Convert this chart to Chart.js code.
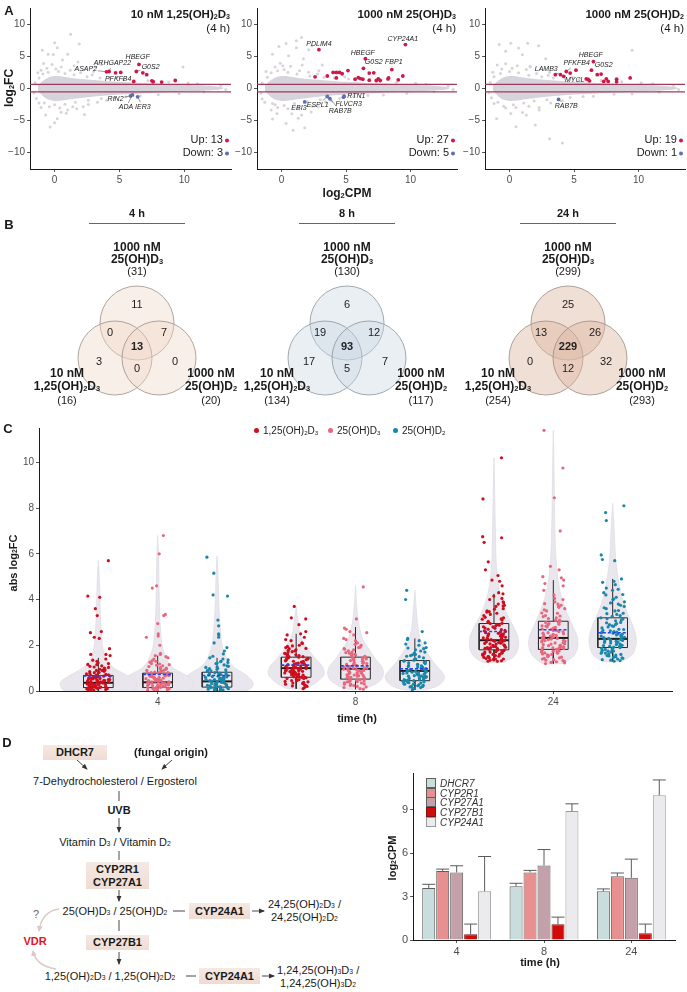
<!DOCTYPE html>
<html>
<head>
<meta charset="utf-8">
<script src="https://cdn.jsdelivr.net/npm/chart.js@4.4.0/dist/chart.umd.min.js"></script>
<style>
  body { margin: 0; width: 687px; height: 992px; position: relative; background: #fff; overflow: hidden;
         font-family: 'Liberation Sans', Arial, sans-serif; color: #1a1a1a; }
  canvas { position: absolute; }
  .t { position: absolute; white-space: nowrap; font-size: 11px; line-height: 1; }
  sub { font-size: 0.62em; vertical-align: -0.12em; line-height: 0; }
  .box { position: absolute; background: linear-gradient(#f5e9e3, #efdcd3); font-weight: bold; font-size: 11px;
         display: flex; flex-direction: column; align-items: center; justify-content: center; line-height: 13px; }
  .leg { position: absolute; font-size: 10px; font-style: italic; color: #333; white-space: nowrap; }
  .sq { display: inline-block; width: 8px; height: 8px; border: 1px solid #666; vertical-align: -1px; margin-right: 4px; }
</style>
</head>
<body>
<svg width="687" height="992" style="position:absolute;left:0;top:0">
  <defs>
    <marker id="ah" markerWidth="6" markerHeight="6" refX="5" refY="3" orient="auto" markerUnits="userSpaceOnUse">
      <path d="M0,0.6 L6,3 L0,5.4 z" fill="#333"/>
    </marker>
    <marker id="ahp" markerWidth="7" markerHeight="7" refX="5" refY="3.5" orient="auto" markerUnits="userSpaceOnUse">
      <path d="M0,0.5 L6,3.5 L0,6.5 z" fill="#dcc9c9"/>
    </marker>
  </defs>
  <g stroke="#333" stroke-width="0.9" fill="none">
    <line x1="77" y1="760" x2="87" y2="769" marker-end="url(#ah)"/>
    <line x1="172" y1="760" x2="162" y2="769" marker-end="url(#ah)"/>
    <line x1="119" y1="791" x2="119" y2="801"/>
    <line x1="119" y1="818" x2="119" y2="832" marker-end="url(#ah)"/>
    <line x1="119" y1="851" x2="119" y2="860"/>
    <line x1="119" y1="890" x2="119" y2="901" marker-end="url(#ah)"/>
    <line x1="173" y1="911" x2="185" y2="911"/>
    <line x1="252" y1="911" x2="264" y2="911" marker-end="url(#ah)"/>
    <line x1="119" y1="920" x2="119" y2="931"/>
    <line x1="119" y1="952" x2="119" y2="964" marker-end="url(#ah)"/>
    <line x1="186" y1="976" x2="196" y2="976"/>
    <line x1="262" y1="976" x2="274" y2="976" marker-end="url(#ah)"/>
  </g>
  <g stroke="#dcc9c9" stroke-width="1.4" fill="none">
    <path d="M59 909 Q 42 911 39 931" marker-end="url(#ahp)"/>
    <path d="M56 969 Q 36 966 33 951" marker-end="url(#ahp)"/>
  </g>
</svg>
<script>
// ---------- data: panel A (MA plots, log2CPM vs log2FC) ----------
const maTicksX = [0, 5, 10];
const maTicksY = [-10, -5, 0, 5, 10];
const fcCut = 0.58;
// envelope of the dense grey gene cloud
const cloudX  = [-1.3, -0.8, -0.3, 0.2, 0.7, 1.5, 2.5, 3.5, 4.5, 5.5, 6.5, 7.5, 8.5, 9.5, 10.5, 11.5, 12.3, 13.0];
const cloudUp = [0.4, 1.3, 1.8, 1.9, 1.8, 1.55, 1.35, 1.2, 1.05, 0.95, 0.85, 0.75, 0.65, 0.55, 0.48, 0.4, 0.3, 0.12];
const cloudLo = [-0.4, -1.4, -1.9, -2.0, -1.9, -1.65, -1.4, -1.2, -1.05, -0.95, -0.85, -0.75, -0.65, -0.55, -0.48, -0.4, -0.3, -0.12];

const gray1 = [[1.23,8.4],[0.0,7.1],[-0.95,5.9],[-0.5,5.3],[0.2,6.3],[1.8,4.1],[3.1,3.3],[3.6,3.7],[-0.85,3.85],[0.6,4.4],[9.9,3.3],[1.9,6.9],[-0.1,5.25],[1.0,5.3],[-1.05,2.8],[-0.35,-6.05],[0.0,-5.4],[0.5,-3.75],[1.0,-3.4],[1.7,-3.2],[-1.05,-3.0],[2.6,-2.55],[-0.7,-4.2],[2.3,-4.1],[0.2,-4.75],[-1.5,0.9],[-1.6,-0.7],[-1.2,1.6],[-0.9,2.2],[-0.5,2.5],[0.3,2.6],[0.8,2.3],[1.5,2.1],[2.5,1.8],[3.5,1.6],[-0.8,-2.3],[0.0,-2.6],[0.8,-2.5],[1.6,-2.2],[2.6,-1.9],[3.6,-1.6],[12.8,0.4],[13.2,-0.2],[11,0.7],[11.5,-0.6],
  [-1.3,2.4],[-0.6,3.1],[0.1,3.0],[0.5,3.3],[1.2,2.8],[1.4,-2.9],[0.4,-3.1],[-0.4,-2.9],[-1.2,-2.3],[2.0,2.4],[2.9,2.1],[3.3,-2.2],[4.2,1.5],[4.6,-1.5],[5.3,1.4],[5.5,-1.35],[6.6,-1.2],[7.2,1.15],[8.0,-1.0],[8.8,0.95],[9.6,-0.85],[10.3,0.8],[4.0,-1.9],[2.2,-2.9],[-0.2,3.7],[0.9,-3.9],[1.5,3.5],[-1.4,-1.6],[3.0,2.6],[4.8,1.7]];
const gray2 = [[1.15,7.4],[1.55,7.9],[0.35,6.95],[-0.2,6.5],[1.15,6.3],[2.35,6.6],[2.1,6.0],[-0.7,5.3],[0.55,5.05],[1.7,4.6],[3.15,3.6],[0.1,3.5],[-0.8,-3.4],[-0.7,-4.8],[-0.35,-3.95],[0.35,-5.5],[0.9,-6.55],[1.3,-4.7],[1.55,-4.2],[2.3,-3.7],[2.85,-2.9],[-0.3,-3.0],[1.8,-6.15],[-1.5,0.8],[-1.6,-0.8],[-1.1,1.7],[-0.8,2.4],[-0.3,2.7],[0.5,2.5],[1.2,2.2],[2.2,1.9],[3.3,1.7],[-0.7,-2.4],[0.2,-2.7],[1.0,-2.4],[2.0,-2.1],[3.0,-1.8],[12.9,0.3],[13.3,-0.2],[11.2,0.6],[11.8,-0.5],
  [-1.2,2.6],[-0.5,3.3],[0.2,2.9],[0.7,3.4],[1.4,2.7],[1.3,-3.0],[0.5,-3.2],[-0.5,-2.6],[-1.3,-2.2],[2.1,2.5],[2.8,2.2],[3.4,-2.1],[4.1,1.6],[4.5,-1.6],[5.2,1.45],[5.6,-1.3],[6.7,-1.15],[7.3,1.1],[7.9,-1.05],[8.9,0.9],[9.7,-0.8],[10.4,0.75],[3.9,-2.0],[2.4,-2.8],[-0.1,3.9],[0.8,-4.0],[1.6,3.6],[-1.5,-1.7],[2.9,2.7],[4.9,1.75]];
const gray3 = [[-0.8,6.8],[0.1,7.0],[1.4,7.0],[2.25,6.6],[0.7,6.25],[-0.3,5.75],[1.0,5.2],[2.8,4.6],[9.5,5.9],[-0.95,3.6],[1.6,3.3],[-1.0,-4.75],[0.1,-3.95],[0.5,-6.0],[1.3,-4.2],[2.3,-3.4],[3.1,-7.9],[4.1,-8.55],[-0.45,-2.8],[2.0,-5.75],[-1.5,0.9],[-1.6,-0.7],[-1.2,1.8],[-0.7,2.3],[0.0,2.6],[0.7,2.4],[1.5,2.0],[2.5,1.8],[3.4,1.6],[-0.9,-2.2],[0.3,-2.6],[1.1,-2.3],[1.9,-2.0],[2.9,-1.8],[12.7,0.4],[13.1,-0.2],[11.1,0.7],[11.6,-0.6],
  [-1.3,2.5],[-0.6,3.0],[0.2,3.1],[0.6,3.5],[1.3,2.9],[1.5,-2.8],[0.5,-3.0],[-0.3,-3.1],[-1.2,-2.4],[2.1,2.3],[3.0,2.0],[3.2,-2.3],[4.3,1.45],[4.7,-1.45],[5.4,1.35],[5.7,-1.3],[6.5,-1.25],[7.1,1.2],[8.1,-0.95],[8.7,1.0],[9.5,-0.9],[10.2,0.85],[4.1,-1.95],[2.3,-3.0],[-0.3,3.8],[1.0,-3.8],[1.6,3.4],[-1.4,-1.5],[3.1,2.5],[4.9,1.65]];

const up1 = [[4.0,2.55],[4.2,2.6],[4.7,2.4],[5.1,2.45],[6.1,1.05],[6.3,2.6],[6.5,3.7],[6.8,2.4],[7.1,2.1],[7.5,1.15],[7.6,1.0],[8.25,0.95],[9.3,1.2]];
const down1 = [[5.85,-1.2],[6.0,-1.05],[6.4,-1.35]];
const up2 = [[2.6,1.77],[2.9,6.0],[3.55,1.9],[4.0,2.45],[4.25,2.45],[4.5,2.45],[4.25,1.6],[4.7,2.25],[5.15,2.75],[5.7,1.4],[5.95,1.65],[6.1,1.5],[6.3,1.4],[6.35,3.1],[6.5,4.6],[6.8,1.25],[6.8,2.35],[7.15,2.4],[7.35,1.2],[7.5,1.45],[7.65,1.2],[8.25,1.45],[8.3,1.6],[8.55,2.9],[9.05,1.3],[9.4,1.9],[9.6,6.8]];
const down2 = [[1.8,-2.15],[3.55,-1.3],[3.75,-1.65],[4.8,-1.4],[4.85,-1.25]];
const up3 = [[3.55,2.1],[3.95,2.1],[4.2,1.85],[4.4,2.6],[4.7,2.35],[5.15,2.8],[5.95,1.45],[6.1,1.35],[6.2,1.15],[6.35,2.8],[6.5,4.15],[6.8,2.1],[7.1,2.2],[7.3,1.05],[7.5,1.45],[7.65,1.05],[8.3,1.4],[8.3,1.0],[9.35,1.6]];
const down3 = [[3.8,-1.75]];

// gene name, point, label anchor (data units)
const genes1 = [
  {g:'ASAP2', at:[4.0,2.55], lab:[2.4,2.95]}, {g:'ARHGAP22', at:[4.2,2.6], lab:[4.45,3.85]},
  {g:'HBEGF', at:[6.5,3.7], lab:[6.4,4.8]}, {g:'G0S2', at:[6.3,2.6], lab:[7.4,3.3]},
  {g:'PFKFB4', at:[6.1,1.05], lab:[4.9,1.45]}, {g:'RIN2', at:[5.85,-1.2], lab:[4.7,-1.7]},
  {g:'ADA', at:[6.0,-1.05], lab:[5.5,-3.0]}, {g:'IER3', at:[6.4,-1.35], lab:[6.8,-2.9]}];
const genes2 = [
  {g:'PDLIM4', at:[2.9,6.0], lab:[2.9,6.9]}, {g:'CYP24A1', at:[9.6,6.8], lab:[9.4,7.7]},
  {g:'HBEGF', at:[6.5,4.6], lab:[6.3,5.5]}, {g:'G0S2', at:[6.35,3.1], lab:[7.15,4.0]},
  {g:'FBP1', at:[8.55,2.9], lab:[8.7,4.0]}, {g:'RTN1', at:[4.85,-1.25], lab:[5.8,-1.25]},
  {g:'FLVCR3', at:[4.8,-1.4], lab:[5.2,-2.4]}, {g:'RAB7B', at:[3.75,-1.65], lab:[4.55,-3.5]},
  {g:'ESPL1', at:[3.55,-1.3], lab:[2.8,-2.65]}, {g:'EBI3', at:[1.8,-2.15], lab:[1.35,-3.1]}];
const genes3 = [
  {g:'LAMB3', at:[3.95,2.1], lab:[2.85,3.05]}, {g:'PFKFB4', at:[4.4,2.6], lab:[5.2,3.85]},
  {g:'HBEGF', at:[6.5,4.15], lab:[6.3,5.1]}, {g:'G0S2', at:[6.35,2.8], lab:[7.3,3.6]},
  {g:'MYCL', at:[5.95,1.45], lab:[5.05,1.2]}, {g:'RAB7B', at:[3.8,-1.75], lab:[4.4,-2.8]}];

const titlesA = ['10 nM 1,25(OH)<sub>2</sub>D<sub>3</sub>', '1000 nM 25(OH)D<sub>3</sub>', '1000 nM 25(OH)D<sub>2</sub>'];

// ---------- data: panel B (Venn) ----------
const vennTimes = ['4 h', '8 h', '24 h'];
// regions: top only, top&left, top&right, all three, left only, left&right, right only
const venn4  = [11, 0, 7, 13, 3, 0, 0];
const venn8  = [6, 19, 12, 93, 17, 5, 7];
const venn24 = [25, 13, 26, 229, 0, 12, 32];
const totTop   = [31, 130, 299];
const totLeft  = [16, 134, 254];
const totRight = [20, 117, 293];

// ---------- data: panel C (abs log2FC per time and treatment) ----------
const timeLabels = ['4', '8', '24'];
const treatNames = ['1,25(OH)<sub>2</sub>D<sub>3</sub>', '25(OH)D<sub>3</sub>', '25(OH)D<sub>2</sub>'];
const c4red  = [5.7,4.15,4.1,3.6,3.3,2.6,2.55,2.35,2.3,1.85,1.6,1.6,1.55,1.4,1.3,1.2,1.15,1.1,1.05,1.0,0.95,0.9,0.9,0.85,0.8,0.8,0.75,0.7,0.7,0.65,0.65,0.6,0.6,0.55,0.55,0.5,0.5,0.45,0.45,0.4,0.4,0.4,0.35,0.35,0.3,0.3,0.3,0.25,0.25,0.2,0.2,0.2,0.15,0.15,0.1,0.1,0.1,0.05,0.05,0.02,
  0.03,0.07,0.09,0.12,0.13,0.17,0.18,0.21,0.23,0.26,0.27,0.29,0.31,0.33,0.36,0.37,0.39,0.42,0.44,0.47,0.49,0.52,0.53,0.57,0.58,0.62,0.64,0.67,0.71,0.73,0.77,0.82,0.86,0.92,0.97,1.03,1.08,1.16,1.24,1.35];
const c4pink = [6.8,6.0,4.6,4.5,3.35,3.3,2.95,2.5,2.4,2.35,2.0,1.6,1.55,1.5,1.4,1.3,1.2,1.15,1.1,1.0,0.95,0.9,0.85,0.8,0.8,0.75,0.7,0.7,0.65,0.6,0.6,0.55,0.5,0.5,0.45,0.45,0.4,0.4,0.35,0.35,0.3,0.3,0.25,0.25,0.2,0.2,0.15,0.15,0.1,0.1,0.08,0.05,0.03,
  0.04,0.06,0.11,0.12,0.16,0.19,0.22,0.24,0.27,0.28,0.32,0.34,0.36,0.38,0.41,0.43,0.46,0.48,0.51,0.54,0.56,0.59,0.63,0.66,0.68,0.72,0.76,0.79,0.83,0.87,0.91,0.96,1.02,1.07,1.13,1.18,1.26,1.33,1.45,1.65];
const c4teal = [5.85,5.15,4.2,4.15,3.1,2.85,2.5,2.45,2.35,2.1,1.9,1.75,1.45,1.4,1.3,1.25,1.2,1.1,1.05,1.0,0.95,0.9,0.85,0.8,0.75,0.75,0.7,0.65,0.6,0.6,0.55,0.5,0.5,0.45,0.4,0.4,0.35,0.35,0.3,0.3,0.25,0.25,0.2,0.2,0.15,0.15,0.1,0.1,0.05,0.04,
  0.03,0.07,0.08,0.12,0.14,0.17,0.19,0.22,0.23,0.27,0.28,0.32,0.33,0.37,0.38,0.42,0.43,0.47,0.48,0.52,0.54,0.57,0.62,0.63,0.67,0.72,0.74,0.78,0.82,0.88,0.93,0.98,1.03,1.08,1.14,1.22,1.28,1.36,1.52,1.62];
const c8red  = [3.7,3.2,3.15,2.9,2.6,2.5,2.45,2.35,2.25,2.2,2.1,2.0,1.95,1.9,1.85,1.8,1.75,1.7,1.65,1.6,1.55,1.5,1.5,1.45,1.4,1.4,1.35,1.3,1.3,1.25,1.2,1.2,1.15,1.1,1.1,1.05,1.0,1.0,1.0,0.95,0.95,0.9,0.9,0.85,0.85,0.8,0.8,0.75,0.75,0.7,0.7,0.65,0.65,0.6,0.6,0.55,0.5,0.45,0.4,0.35,0.3,0.25,0.2,0.15,0.1,
  0.22,0.28,0.33,0.38,0.42,0.46,0.51,0.55,0.58,0.62,0.66,0.69,0.72,0.76,0.79,0.82,0.86,0.88,0.92,0.96,0.98,1.02,1.06,1.08,1.12,1.17,1.22,1.26,1.32,1.37,1.43,1.48,1.53,1.58,1.64,1.72,1.78,1.86,1.97,2.08];
const c8pink = [4.55,3.15,2.75,2.7,2.6,2.55,2.45,2.3,2.2,2.1,2.0,1.9,1.85,1.8,1.7,1.65,1.6,1.55,1.5,1.45,1.4,1.4,1.35,1.3,1.25,1.2,1.15,1.1,1.1,1.05,1.0,1.0,0.95,0.9,0.9,0.85,0.8,0.8,0.75,0.7,0.7,0.65,0.6,0.6,0.55,0.5,0.5,0.45,0.4,0.4,0.35,0.3,0.3,0.25,0.2,0.15,0.1,0.08,
  0.18,0.24,0.31,0.36,0.41,0.44,0.48,0.53,0.56,0.61,0.63,0.67,0.71,0.74,0.78,0.81,0.84,0.87,0.91,0.94,0.97,1.01,1.04,1.07,1.13,1.16,1.21,1.27,1.33,1.38,1.44,1.52,1.57,1.62,1.68,1.76,1.83,1.92,2.04,2.25];
const c8teal = [4.4,4.0,2.6,2.3,2.25,2.2,2.1,2.0,1.9,1.85,1.8,1.7,1.6,1.55,1.5,1.4,1.35,1.3,1.25,1.2,1.15,1.1,1.05,1.0,1.0,0.95,0.9,0.9,0.85,0.8,0.8,0.75,0.7,0.7,0.65,0.65,0.6,0.6,0.55,0.5,0.5,0.45,0.45,0.4,0.4,0.35,0.3,0.3,0.25,0.2,0.2,0.15,0.1,0.05,
  0.12,0.18,0.23,0.27,0.32,0.36,0.38,0.42,0.47,0.52,0.54,0.57,0.62,0.64,0.67,0.71,0.73,0.77,0.79,0.82,0.86,0.88,0.92,0.96,0.98,1.03,1.07,1.12,1.17,1.23,1.28,1.33,1.38,1.45,1.52,1.58,1.66,1.75,1.88,2.05];
const c24red  = [10.2,8.4,6.75,6.7,6.5,5.65,5.3,5.05,4.85,4.8,4.6,4.3,4.25,4.15,4.05,4.0,3.9,3.8,3.75,3.7,3.6,3.5,3.45,3.4,3.3,3.2,3.15,3.1,3.0,2.95,2.9,2.85,2.8,2.75,2.7,2.65,2.6,2.55,2.5,2.5,2.45,2.4,2.4,2.35,2.3,2.3,2.25,2.2,2.2,2.15,2.1,2.1,2.05,2.0,2.0,1.95,1.9,1.9,1.85,1.8,1.8,1.75,1.7,1.7,1.65,1.6,1.6,1.55,1.5,1.5,1.45,1.4,1.4,1.35,1.3,1.3,
  1.32,1.38,1.42,1.47,1.52,1.56,1.61,1.64,1.68,1.72,1.76,1.79,1.83,1.87,1.91,1.94,1.97,2.02,2.06,2.08,2.12,2.16,2.18,2.23,2.27,2.32,2.36,2.42,2.47,2.52,2.58,2.63,2.68,2.74,2.81,2.88,2.96,3.05,3.14,3.22,3.35,3.47,3.58,3.72,3.86];
const c24pink = [11.4,9.75,8.45,7.0,5.45,5.3,5.0,4.95,4.85,4.7,4.6,4.4,4.2,4.0,3.9,3.8,3.75,3.7,3.6,3.5,3.4,3.3,3.25,3.2,3.1,3.05,3.0,2.95,2.9,2.85,2.8,2.75,2.7,2.65,2.6,2.55,2.5,2.45,2.4,2.4,2.35,2.3,2.3,2.25,2.2,2.2,2.15,2.1,2.05,2.0,2.0,1.95,1.9,1.9,1.85,1.8,1.75,1.7,1.65,1.6,1.55,1.5,1.45,1.4,1.35,1.3,1.25,1.2,
  1.23,1.28,1.33,1.37,1.43,1.48,1.53,1.58,1.62,1.67,1.71,1.74,1.78,1.82,1.86,1.89,1.93,1.98,2.03,2.07,2.11,2.14,2.18,2.22,2.27,2.33,2.38,2.43,2.48,2.53,2.59,2.64,2.71,2.78,2.84,2.92,3.01,3.09,3.17,3.28,3.41,3.55,3.66,3.82,4.05];
const c24teal = [8.1,7.8,7.45,5.95,5.75,5.7,4.9,4.8,4.75,4.65,4.5,4.4,4.3,4.2,4.1,4.0,3.9,3.8,3.75,3.7,3.6,3.5,3.4,3.35,3.3,3.2,3.15,3.1,3.0,2.95,2.9,2.85,2.8,2.7,2.65,2.6,2.55,2.5,2.45,2.4,2.35,2.3,2.3,2.25,2.2,2.2,2.15,2.1,2.05,2.0,2.0,1.95,1.9,1.85,1.8,1.75,1.7,1.65,1.6,1.55,1.5,1.45,1.4,1.35,1.3,
  1.33,1.37,1.43,1.48,1.53,1.57,1.62,1.66,1.71,1.74,1.78,1.82,1.86,1.92,1.96,1.99,2.03,2.07,2.12,2.17,2.21,2.24,2.28,2.33,2.37,2.42,2.48,2.53,2.58,2.63,2.69,2.76,2.83,2.91,2.98,3.07,3.16,3.26,3.38,3.52,3.64,3.85,4.02,4.22,4.45];
const cVals = [c4red, c4pink, c4teal, c8red, c8pink, c8teal, c24red, c24pink, c24teal];
// violin outline: y levels and half widths
const vioY = [
  [0,0.2,0.4,0.6,0.8,1.0,1.3,1.6,2.0,3.0,4.0,5.0,5.7],
  [0,0.2,0.4,0.6,0.8,1.0,1.3,1.6,2.0,3.0,4.0,5.0,6.0,6.8],
  [0,0.2,0.4,0.6,0.8,1.0,1.3,1.6,2.0,3.0,4.0,5.0,5.9],
  [0.1,0.3,0.5,0.7,0.9,1.1,1.3,1.6,2.0,2.5,3.0,3.7],
  [0.08,0.3,0.5,0.7,0.9,1.1,1.4,1.8,2.2,2.8,3.5,4.6],
  [0.05,0.2,0.4,0.6,0.8,1.0,1.3,1.7,2.2,2.8,3.5,4.4],
  [1.25,1.5,1.8,2.1,2.4,2.8,3.2,3.8,4.5,5.5,7.0,8.5,10.2],
  [1.2,1.5,1.8,2.1,2.4,2.8,3.3,4.0,4.8,6.0,7.5,9.5,11.4],
  [1.3,1.6,1.9,2.2,2.5,2.9,3.4,4.0,4.8,5.8,7.0,8.2]];
const vioW = [
  [0.17,0.19,0.19,0.16,0.12,0.08,0.045,0.03,0.02,0.012,0.008,0.005,0],
  [0.16,0.18,0.18,0.16,0.12,0.08,0.05,0.035,0.022,0.012,0.008,0.006,0.004,0],
  [0.15,0.18,0.18,0.16,0.13,0.09,0.055,0.04,0.025,0.014,0.008,0.005,0],
  [0.04,0.09,0.12,0.14,0.14,0.13,0.11,0.08,0.045,0.02,0.01,0],
  [0.04,0.1,0.13,0.14,0.14,0.13,0.1,0.07,0.04,0.02,0.008,0],
  [0.05,0.11,0.14,0.15,0.14,0.12,0.09,0.06,0.03,0.015,0.008,0],
  [0.05,0.1,0.12,0.125,0.12,0.1,0.075,0.045,0.025,0.012,0.007,0.004,0],
  [0.05,0.1,0.12,0.125,0.12,0.1,0.075,0.045,0.025,0.012,0.007,0.004,0],
  [0.05,0.1,0.115,0.12,0.115,0.1,0.075,0.05,0.03,0.015,0.008,0]];
const boxQ1   = [0.15, 0.15, 0.17, 0.6, 0.52, 0.45, 1.8, 1.82, 1.9];
const boxMed  = [0.36, 0.38, 0.42, 1.0, 0.97, 0.88, 2.22, 2.32, 2.28];
const boxQ3   = [0.68, 0.78, 0.82, 1.48, 1.48, 1.33, 2.95, 3.05, 3.2];
const whiskLo = [0.0, 0.0, 0.0, 0.1, 0.08, 0.05, 1.3, 1.2, 1.3];
const whiskHi = [1.45, 1.55, 1.45, 2.5, 2.8, 2.3, 4.25, 4.85, 4.9];
const meanFC  = [0.66, 0.72, 0.68, 1.13, 1.1, 0.97, 2.6, 2.68, 2.55];

// ---------- data: panel D (log2CPM of pathway genes) ----------
const barGenes = ['DHCR7', 'CYP2R1', 'CYP27A1', 'CYP27B1', 'CYP24A1'];
const cpmDHCR7   = [3.6, 3.71, 3.37];
const cpmCYP2R1  = [4.76, 4.67, 4.4];
const cpmCYP27A1 = [4.67, 5.15, 4.3];
const cpmCYP27B1 = [0.39, 1.08, 0.46];
const cpmCYP24A1 = [3.37, 8.91, 10.0];
const hiDHCR7   = [3.85, 3.92, 3.53];
const hiCYP2R1  = [4.9, 4.81, 4.63];
const hiCYP27A1 = [5.13, 6.25, 5.59];
const hiCYP27B1 = [1.1, 1.58, 1.1];
const hiCYP24A1 = [5.77, 9.41, 11.06];

// ---------- helpers ----------
const FONT = "'Liberation Sans', Arial, sans-serif";
Chart.defaults.font.family = FONT;
Chart.defaults.font.size = 10;
Chart.defaults.color = '#4d4d4d';

function mkCanvas(left, top, w, h) {
  const c = document.createElement('canvas');
  c.width = w; c.height = h;
  c.style.left = left + 'px'; c.style.top = top + 'px';
  c.style.width = w + 'px'; c.style.height = h + 'px';
  document.body.appendChild(c);
  return c;
}
function put(html, x, y, css, anchor) {
  const d = document.createElement('div');
  d.className = 't';
  d.innerHTML = html;
  d.style.left = x + 'px'; d.style.top = y + 'px';
  d.style.transform = anchor || 'translate(-50%,-50%)';
  if (css) Object.assign(d.style, css);
  document.body.appendChild(d);
  return d;
}
function ax(o) {
  const a = {
    type: o.type || 'linear',
    offset: !!o.offset,
    border: { display: true, color: '#1a1a1a', width: 1 },
    grid: { display: true, drawOnChartArea: false, drawTicks: true, tickLength: 3, color: '#555', offset: false },
    ticks: { padding: 2, color: '#4d4d4d', font: { size: o.fs || 10 }, autoSkip: false, maxRotation: 0 },
    afterFit: s => { if (o.w != null) s.width = o.w; if (o.h != null) s.height = o.h; }
  };
  if (o.min != null) a.min = o.min;
  if (o.max != null) a.max = o.max;
  if (o.cb) a.ticks.callback = o.cb;
  if (o.ticks) a.afterBuildTicks = s => { s.ticks = o.ticks.map(v => ({ value: v })); };
  return a;
}
const baseOpts = (scales, padding, plugins) => ({
  responsive: false, animation: false, events: [],
  layout: { padding, autoPadding: false },
  scales,
  plugins: Object.assign({ legend: { display: false }, tooltip: { enabled: false } }, plugins || {})
});
const minus = v => v < 0 ? '\u2212' + Math.abs(v) : '' + v;
// deterministic horizontal jitter for strip points (display only)
const jitter = (k, g) => { const h = Math.sin((k + 1) * 12.9898 + g * 78.233) * 43758.5453; return (h - Math.floor(h)) * 2 - 1; };

// gene labels with leader lines
const geneLabels = {
  id: 'genes',
  afterDatasetsDraw(chart, args, opts) {
    const { ctx } = chart, xs = chart.scales.x, ys = chart.scales.y;
    ctx.save();
    ctx.font = 'italic 7px ' + FONT;
    ctx.textAlign = 'center'; ctx.textBaseline = 'middle';
    opts.list.forEach(g => {
      const px = xs.getPixelForValue(g.at[0]), py = ys.getPixelForValue(g.at[1]);
      const lx = xs.getPixelForValue(g.lab[0]), ly = ys.getPixelForValue(g.lab[1]);
      const hw = ctx.measureText(g.g).width / 2 + 1, hh = 4.5;
      const dx = px - lx, dy = py - ly, len = Math.hypot(dx, dy);
      const t = Math.min(dx ? hw / Math.abs(dx) : 1e9, dy ? hh / Math.abs(dy) : 1e9);
      if (t < 1 && len * (1 - t) > 3) {
        ctx.strokeStyle = '#555'; ctx.lineWidth = 0.6;
        ctx.beginPath();
        ctx.moveTo(lx + dx * t, ly + dy * t);
        ctx.lineTo(px - dx / len * 1.5, py - dy / len * 1.5);
        ctx.stroke();
      }
      ctx.fillStyle = '#222';
      ctx.fillText(g.g, lx, ly);
    });
    ctx.restore();
  }
};

// ---------- panel A ----------
const RED_A = '#d0174a', BLUE_A = '#5a6fb5', GRAY_A = '#d7d3dd', CUT = '#a13a58';
const pts = arr => arr.map(p => ({ x: p[0], y: p[1] }));
const maPanels = [
  { left: 0, w: 232, yw: 30, padR: 1, gray: gray1, up: up1, down: down1, genes: genes1 },
  { left: 232, w: 226, yw: 25, padR: 1, gray: gray2, up: up2, down: down2, genes: genes2 },
  { left: 458, w: 229, yw: 27, padR: 2, gray: gray3, up: up3, down: down3, genes: genes3 }
];
maPanels.forEach((p, i) => {
  const cv = mkCanvas(p.left, 0, p.w, 200);
  const xMin = -1.9, xMax = 13.6;
  const cut = v => ({ data: [{ x: xMin, y: v }, { x: xMax, y: v }], showLine: true, pointRadius: 0,
                      borderColor: CUT, borderWidth: 1.2, order: 2 });
  new Chart(cv, {
    type: 'scatter',
    data: { datasets: [
      { data: pts(p.up), backgroundColor: RED_A, pointRadius: 1.9, borderWidth: 0, order: 1 },
      { data: pts(p.down), backgroundColor: BLUE_A, pointRadius: 1.9, borderWidth: 0, order: 1 },
      cut(fcCut), cut(-fcCut),
      { data: pts(p.gray), backgroundColor: GRAY_A, pointRadius: 1.5, borderWidth: 0, order: 4 },
      { data: cloudX.map((x, k) => ({ x, y: cloudUp[k] })), showLine: true, pointRadius: 0, borderWidth: 0,
        backgroundColor: GRAY_A, fill: '+1', tension: 0.4, order: 5 },
      { data: cloudX.map((x, k) => ({ x, y: cloudLo[k] })), showLine: true, pointRadius: 0, borderWidth: 0,
        tension: 0.4, order: 5 }
    ] },
    options: baseOpts({
      x: ax({ min: xMin, max: xMax, ticks: maTicksX, h: 31 }),
      y: ax({ min: -12.6, max: 12.5, ticks: maTicksY, w: p.yw, cb: minus })
    }, { top: 8, right: p.padR, left: 0, bottom: 0 }, { genes: { list: p.genes } }),
    plugins: [geneLabels]
  });
  const right = p.left + p.w - p.padR;
  put(titlesA[i], right - 1, 15, { fontWeight: 'bold', fontSize: '11.5px' }, 'translate(-100%,-50%)');
  put('(4 h)', right - 1, 29, { fontSize: '11.5px' }, 'translate(-100%,-50%)');
  put('Up: ' + p.up.length, right - 8, 139, { fontSize: '11px' }, 'translate(-100%,-50%)');
  put('Down: ' + p.down.length, right - 8, 152, { fontSize: '11px' }, 'translate(-100%,-50%)');
  put('<span style="display:inline-block;width:4px;height:4px;border-radius:2px;background:' + RED_A + '"></span>', right - 4, 139);
  put('<span style="display:inline-block;width:4px;height:4px;border-radius:2px;background:' + BLUE_A + '"></span>', right - 4, 152);
});
put('A', 9, 10, { fontWeight: 'bold', fontSize: '13px' });
put('log<sub>2</sub>FC', 9, 88, { fontWeight: 'bold', fontSize: '12px' }, 'translate(-50%,-50%) rotate(-90deg)');
put('log<sub>2</sub>CPM', 347, 193, { fontWeight: 'bold', fontSize: '12px' });

// ---------- panel B ----------
put('B', 9, 224, { fontWeight: 'bold', fontSize: '13px' });
const vennCx = [137, 347, 568];
const vennFill = ['rgba(238,214,198,0.38)', 'rgba(200,214,226,0.38)', 'rgba(222,184,162,0.45)'];
const vennStroke = ['#9b918a', '#8d959c', '#9b8d84'];
const vennCircles = [{ x: 70, y: 44, r: 37 }, { x: 48, y: 79, r: 37 }, { x: 92, y: 79, r: 37 }];
const vennSpots = [[70, 26], [43, 54], [97, 54], [70, 68], [32, 83], [70, 90], [108, 83]];
const vennCounts = [venn4, venn8, venn24];
const vennLabels = {
  id: 'vennLabels',
  afterDatasetsDraw(chart, args, opts) {
    const { ctx } = chart, xs = chart.scales.x, ys = chart.scales.y;
    ctx.save();
    ctx.textAlign = 'center'; ctx.textBaseline = 'middle'; ctx.fillStyle = '#222';
    opts.counts.forEach((c, k) => {
      ctx.font = (k === 3 ? 'bold ' : '') + '11px ' + FONT;
      ctx.fillText(String(c), xs.getPixelForValue(vennSpots[k][0]), ys.getPixelForValue(vennSpots[k][1]));
    });
    ctx.restore();
  }
};
vennCx.forEach((cx, i) => {
  const cv = mkCanvas(cx - 70, 279, 140, 125);
  new Chart(cv, {
    type: 'bubble',
    data: { datasets: [{ data: vennCircles, backgroundColor: vennFill[i], borderColor: vennStroke[i],
                         borderWidth: 0.8, clip: false }] },
    options: baseOpts({
      x: { display: false, min: 0, max: 140 },
      y: { display: false, min: 0, max: 125, reverse: true }
    }, 0, { vennLabels: { counts: vennCounts[i] } }),
    plugins: [vennLabels]
  });
  put(vennTimes[i], cx, 213, { fontWeight: 'bold', fontSize: '11px' });
  put('', cx - 48, 223, { width: '96px', borderTop: '1px solid #666' }, 'none');
  put('1000 nM', cx, 247, { fontWeight: 'bold', fontSize: '12px' });
  put('25(OH)D<sub>3</sub>', cx, 259, { fontWeight: 'bold', fontSize: '12px' });
  put('(' + totTop[i] + ')', cx, 271, { fontSize: '11px' });
  const lx = cx - 70, rx = cx + 74;
  put('10 nM', lx, 373, { fontWeight: 'bold', fontSize: '12px' });
  put('1,25(OH)<sub>2</sub>D<sub>3</sub>', lx, 386, { fontWeight: 'bold', fontSize: '12px' });
  put('(' + totLeft[i] + ')', lx, 400, { fontSize: '11px' });
  put('1000 nM', rx, 373, { fontWeight: 'bold', fontSize: '12px' });
  put('25(OH)D<sub>2</sub>', rx, 386, { fontWeight: 'bold', fontSize: '12px' });
  put('(' + totRight[i] + ')', rx, 400, { fontSize: '11px' });
});

// ---------- panel C ----------
put('C', 8, 428, { fontWeight: 'bold', fontSize: '13px' });
const cCols = ['#cf0d1d', '#e8677c', '#1887aa'];
const dodge = [-0.3, 0, 0.3];
const cSets = [];
cVals.forEach((vals, gi) => {
  const xc = 1 + Math.floor(gi / 3) + dodge[gi % 3];
  const ys = vioY[gi], ws = vioW[gi];
  const outline = ys.map((y, k) => ({ x: xc + ws[k], y }))
    .concat(ys.slice().reverse().map((y, k) => ({ x: xc - ws[ws.length - 1 - k], y })));
  outline.push(outline[0]);
  cSets.push({ data: outline, showLine: true, pointRadius: 0, borderColor: '#e0dde4', borderWidth: 0.8,
               backgroundColor: '#e9e7ed', fill: 'shape', tension: 0.3, order: 6 });
  const bw = 0.075;
  const line = (pp, col, w, dash, ord) => ({ data: pp, showLine: true, pointRadius: 0, borderColor: col,
               borderWidth: w, borderDash: dash || [], fill: false, tension: 0, order: ord });
  cSets.push(line([{ x: xc - bw, y: boxQ1[gi] }, { x: xc + bw, y: boxQ1[gi] }, { x: xc + bw, y: boxQ3[gi] },
                   { x: xc - bw, y: boxQ3[gi] }, { x: xc - bw, y: boxQ1[gi] }], '#2b2b2b', 1, null, 5));
  cSets.push(line([{ x: xc, y: boxQ3[gi] }, { x: xc, y: whiskHi[gi] }], '#2b2b2b', 1, null, 5));
  cSets.push(line([{ x: xc, y: boxQ1[gi] }, { x: xc, y: whiskLo[gi] }], '#2b2b2b', 1, null, 5));
  cSets.push(line([{ x: xc - bw, y: boxMed[gi] }, { x: xc + bw, y: boxMed[gi] }], '#1a1a1a', 2, null, 5));
  cSets.push({ data: vals.map((v, k) => ({ x: xc + jitter(k, gi) * 0.06, y: v })),
               backgroundColor: cCols[gi % 3], pointRadius: 1.6, borderWidth: 0, order: 2 });
  cSets.push(line([{ x: xc - bw, y: meanFC[gi] }, { x: xc + bw, y: meanFC[gi] }], '#2244e6', 1.6, [3, 2], 1));
});
new Chart(mkCanvas(0, 420, 687, 302), {
  type: 'scatter',
  data: { datasets: cSets },
  options: baseOpts({
    x: ax({ min: 0.4, max: 3.6, ticks: [1, 2, 3], cb: v => timeLabels[v - 1], h: 31, fs: 10 }),
    y: ax({ min: 0, max: 11.5, ticks: [0, 2, 4, 6, 8, 10], w: 39 })
  }, { top: 7, right: 15, left: 0, bottom: 0 })
});
put('abs log<sub>2</sub>FC', 13, 563, { fontWeight: 'bold', fontSize: '11px' }, 'translate(-50%,-50%) rotate(-90deg)');
put('time (h)', 357, 718, { fontWeight: 'bold', fontSize: '11px' });
const legX = [257, 331, 396];
treatNames.forEach((n, i) => {
  put('<span style="display:inline-block;width:5px;height:5px;border-radius:3px;background:' + cCols[i] +
      ';margin-right:4px;vertical-align:1px"></span>' + n, legX[i] - 3, 431, { fontSize: '10px', color: '#222' },
      'translate(0,-50%)');
});

// ---------- panel D: pathway text ----------
put('D', 7, 742, { fontWeight: 'bold', fontSize: '13px' });
function box(html, l, t, w, h) {
  const d = document.createElement('div');
  d.className = 'box';
  d.innerHTML = html;
  Object.assign(d.style, { left: l + 'px', top: t + 'px', width: w + 'px', height: h + 'px' });
  document.body.appendChild(d);
}
box('DHCR7', 43, 745, 64, 15);
put('(fungal origin)', 171, 752, { fontWeight: 'bold' });
put('7-Dehydrocholesterol / Ergosterol', 115, 781);
put('UVB', 119, 810, { fontWeight: 'bold' });
put('Vitamin D<sub>3</sub> / Vitamin D<sub>2</sub>', 115, 842);
box('<div>CYP2R1</div><div>CYP27A1</div>', 86, 862, 63, 27);
put('25(OH)D<sub>3</sub> / 25(OH)D<sub>2</sub>', 115, 911);
box('CYP24A1', 189, 903, 61, 16);
put('24,25(OH)<sub>2</sub>D<sub>3</sub> /', 268, 904, null, 'translate(0,-50%)');
put('24,25(OH)<sub>2</sub>D<sub>2</sub>', 271, 917, null, 'translate(0,-50%)');
put('?', 36, 914, { color: '#666' });
put('VDR', 35, 941, { fontWeight: 'bold', color: '#e3141b' });
box('CYP27B1', 86, 935, 63, 15);
put('1,25(OH)<sub>2</sub>D<sub>3</sub> / 1,25(OH)<sub>2</sub>D<sub>2</sub>', 110, 976);
box('CYP24A1', 199, 968, 61, 16);
put('1,24,25(OH)<sub>3</sub>D<sub>3</sub> /', 277, 970, null, 'translate(0,-50%)');
put('1,24,25(OH)<sub>3</sub>D<sub>2</sub>', 280, 983, null, 'translate(0,-50%)');

// ---------- panel D: bar chart ----------
const barCols = ['#c9dddd', '#e88f8f', '#c3a0aa', '#d10a0a', '#ebebee'];
const barBorders = ['#5e5e5e', '#5e5e5e', '#5e5e5e', '#7a1414', '#9a9a9a'];
const cpmAll = [cpmDHCR7, cpmCYP2R1, cpmCYP27A1, cpmCYP27B1, cpmCYP24A1];
const hiAll = [hiDHCR7, hiCYP2R1, hiCYP27A1, hiCYP27B1, hiCYP24A1];
const errBars = {
  id: 'errBars',
  afterDatasetsDraw(chart) {
    const { ctx } = chart, ys = chart.scales.y;
    ctx.save();
    ctx.strokeStyle = '#5a5a5a'; ctx.lineWidth = 1;
    chart.data.datasets.forEach((ds, i) => {
      chart.getDatasetMeta(i).data.forEach((bar, j) => {
        const yTop = ys.getPixelForValue(hiAll[i][j]);
        const hw = bar.width / 2;
        ctx.beginPath();
        ctx.moveTo(bar.x, bar.y); ctx.lineTo(bar.x, yTop);
        ctx.moveTo(bar.x - hw, yTop); ctx.lineTo(bar.x + hw, yTop);
        ctx.stroke();
      });
    });
    ctx.restore();
  }
};
new Chart(mkCanvas(380, 765, 302, 195), {
  type: 'bar',
  data: { labels: timeLabels, datasets: barGenes.map((g, i) => ({
    label: g, data: cpmAll[i], backgroundColor: barCols[i], borderColor: barBorders[i], borderWidth: 1,
    categoryPercentage: 0.8, barPercentage: 0.93 })) },
  options: baseOpts({
    x: ax({ type: 'category', offset: true, h: 20, fs: 11 }),
    y: ax({ min: 0, max: 11.5, ticks: [0, 3, 6, 9], w: 33, fs: 11 })
  }, { top: 7, right: 7, left: 0, bottom: 0 }),
  plugins: [errBars]
});
put('log<sub>2</sub>CPM', 392, 858, { fontWeight: 'bold', fontSize: '11px' }, 'translate(-50%,-50%) rotate(-90deg)');
put('time (h)', 540, 962, { fontWeight: 'bold', fontSize: '11px' });
barGenes.forEach((g, i) => {
  const d = document.createElement('div');
  d.className = 'leg';
  d.innerHTML = '<span class="sq" style="background:' + barCols[i] + ';border-color:' + barBorders[i] + '"></span>' + g;
  Object.assign(d.style, { left: '426px', top: (778 + i * 9.7) + 'px' });
  document.body.appendChild(d);
});
</script>
</body>
</html>
